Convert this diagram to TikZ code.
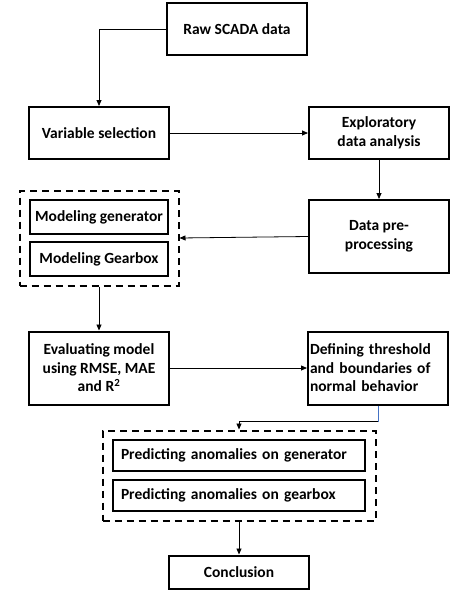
\documentclass[tikz,border=0pt]{standalone}
\usepackage{fontspec}
\setmainfont{Carlito}
\usetikzlibrary{arrows.meta,positioning,fit}
\definecolor{linkblue}{RGB}{68,114,196}

\begin{document}
\begin{tikzpicture}[
      x=1pt, y=1pt,
      node distance=1.0cm,
      block/.style={rectangle, draw, line width=2pt, minimum width=140pt, minimum height=52pt, align=center, font=\bfseries\fontsize{15.5}{18.5}\selectfont},
      tallblock/.style={block, minimum height=73pt},
      subblock/.style={block, minimum width=138pt, minimum height=34pt, inner xsep=1pt},
      wideblock/.style={block, inner xsep=8pt, text width=236pt, align=left, minimum height=31pt},
      group/.style={draw, line width=2pt, dash pattern=on 7pt off 5pt, inner xsep=9.5pt, inner ysep=8.5pt},
      arrow/.style={-{Triangle[length=6pt,width=5pt]}, line width=0.8pt},
    ]
    \useasboundingbox (0,0) rectangle (466,-592);

    % Main pipeline
    \node[block] (raw) at (237,-29) {Raw SCADA data};
    \node[block] (var) at (99,-133) {Variable selection};
    \node[block, right=138pt of var] (expl) {Exploratory\\data analysis};
    \node[tallblock, below=39pt of expl] (dpre) {Data pre-\\processing};

    % Modeling group
    \node[subblock, below=39pt of var] (mgen) {Modeling generator};
    \node[subblock, below=6pt of mgen] (mgear) {Modeling Gearbox};
    \node[group, fit=(mgen) (mgear)] (model) {};

    % Evaluation and threshold
    \node[tallblock, below=44pt of model] (eval) {Evaluating model\\using RMSE, MAE\\and R\textsuperscript{2}};
    \node[tallblock, right=137pt of eval, align=left, inner xsep=2pt, text width=136pt] (def) {Defining threshold\\and boundaries of\\normal behavior};

    % Prediction group
    \node[wideblock] (pgen) at (239,-455.5) {Predicting anomalies on generator};
    \node[wideblock, below=7pt of pgen] (pgear) {Predicting anomalies on gearbox};
    \node[group, fit=(pgen) (pgear)] (predict) {};
    \node[block, below=33pt of predict, minimum height=33pt] (concl) {Conclusion};

    % Flow arrows
    \draw[arrow] (raw.west) -| (var.north);
    \draw[arrow] (var) -- (expl);
    \draw[arrow] (expl) -- (dpre);
    \draw[arrow] (dpre.west) -- (model.east);
    \draw[arrow] (model) -- (eval);
    \draw[arrow] (eval) -- (def);
    \coordinate[below=16pt of def.south] (bend);
    \draw[linkblue, line width=0.7pt] (def.south) -- (bend);
    \draw[arrow] (bend) -| (predict.north);
    \draw[arrow] (predict) -- (concl);
\end{tikzpicture}
\end{document}
